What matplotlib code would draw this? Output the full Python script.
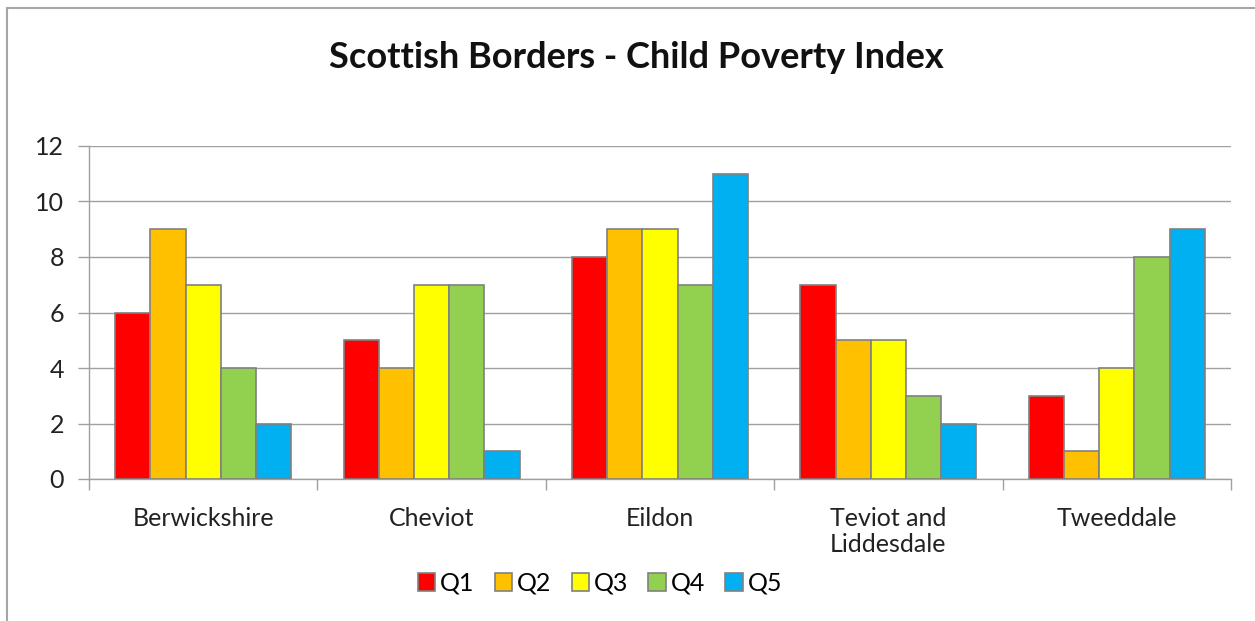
import numpy as np
import matplotlib.pyplot as plt
from matplotlib.patches import Rectangle

plt.rcParams['font.family'] = ['Lato', 'DejaVu Sans']

regions = ["Berwickshire", "Cheviot", "Eildon", "Teviot and\nLiddesdale", "Tweeddale"]
series_names = ["Q1", "Q2", "Q3", "Q4", "Q5"]
q1 = [6, 5, 8, 7, 3]
q2 = [9, 4, 9, 5, 1]
q3 = [7, 7, 9, 5, 4]
q4 = [4, 7, 7, 3, 8]
q5 = [2, 1, 11, 2, 9]
colors = ["#ff0000", "#ffc000", "#ffff00", "#92d050", "#00b0f0"]

fig = plt.figure(figsize=(12.55, 6.21), dpi=100)
# outer chart border (Excel style)
fig.patches.append(Rectangle((7 / 1255, -0.05), 1.2, 1 - 8 / 621 + 0.05,
                             transform=fig.transFigure, fill=False,
                             edgecolor="#a6a6a6", linewidth=1.5))

ax = fig.add_axes([89 / 1255, 1 - 479 / 621, (1231 - 89) / 1255, (479 - 146) / 621])

x = np.arange(len(regions))
w = 0.154
for i, vals in enumerate([q1, q2, q3, q4, q5]):
    ax.bar(x + (i - 2) * w, vals, width=w, color=colors[i], edgecolor="#808080",
           linewidth=1.2, label=series_names[i], zorder=3)

ax.set_xlim(-0.5, len(regions) - 0.5)
ax.set_ylim(0, 12)
ax.set_yticks(range(0, 13, 2))
ax.yaxis.grid(True, color="#a0a0a0", linewidth=1, zorder=0)
ax.set_xticks(x)
ax.set_xticklabels(regions, fontsize=18, color="#222222", linespacing=1.15)
ax.set_xticks(np.arange(-0.5, len(regions), 1), minor=True)
ax.tick_params(axis="x", which="major", length=0, pad=20)
ax.tick_params(axis="x", which="minor", length=8, color="#a0a0a0", width=1)
ax.tick_params(axis="y", length=8, color="#a0a0a0", width=1, labelsize=18,
               labelcolor="#222222", pad=10)
for side in ["top", "right"]:
    ax.spines[side].set_visible(False)
for side in ["left", "bottom"]:
    ax.spines[side].set_color("#a0a0a0")
    ax.spines[side].set_linewidth(1)

fig.text(636 / 1255, 1 - 57 / 621, "Scottish Borders - Child Poverty Index",
         ha="center", va="center", fontsize=26, fontweight="bold", color="#111111")

fig.legend(loc="center", bbox_to_anchor=(600 / 1255, 1 - 583 / 621), ncol=5,
           frameon=False, fontsize=18, handlelength=0.7, handleheight=0.7,
           handletextpad=0.2, columnspacing=0.8)

plt.savefig("out.png", dpi=100)
